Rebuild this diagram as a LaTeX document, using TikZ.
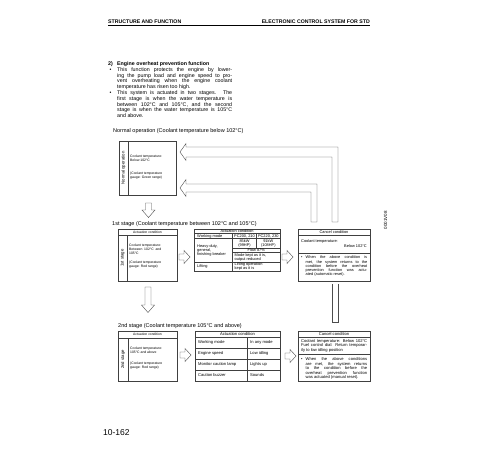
\documentclass[tikz,border=0pt]{standalone}
\usepackage{fontspec}
\setmainfont{Liberation Sans}
\usetikzlibrary{positioning}

\newcommand\hdfont{\fontsize{5.2}{6}\bfseries\selectfont}
\newcommand\parafont{\fontsize{5.3}{5.8}\selectfont}
\newcommand\titlefont{\fontsize{5.5}{6}\selectfont}
\newcommand\lboxfont{\fontsize{3.4}{4.2}\selectfont}
\newcommand\rotfont{\fontsize{4.3}{5}\selectfont}
\newcommand\tabfont{\fontsize{3.9}{4.2}\selectfont}
\newcommand\tabbfont{\fontsize{4.1}{4.5}\selectfont}

\tikzset{
  frame/.style={draw=black!75, line width=0.45pt, inner sep=0pt, anchor=north west},
  hollow/.style={draw=black!70, line width=0.4pt},
  txt/.style={inner sep=0pt, align=left},
  pics/rarrow/.style={code={\draw[hollow] (0,-3) -- (5,-3) -- (5,-6.5) -- (11,0) -- (5,6.5) -- (5,3) -- (0,3) -- cycle;}},
  pics/darrow/.style={code={\draw[hollow] (-3,0) -- (3,0) -- (3,#1) -- (6.5,#1) -- (0,#1+7.5) -- (-6.5,#1) -- (-3,#1) -- cycle;}},
}

\begin{document}
\begin{tikzpicture}[x=1pt, y=-1pt]
\fill[white] (0,0) rectangle (500,450);
\useasboundingbox (0,0) rectangle (500,450);

% page header
\node[txt, font=\hdfont, anchor=base west] (hdl) at (108,23) {STRUCTURE AND FUNCTION};
\node[txt, font=\hdfont, anchor=base east] (hdr) at (370,23) {ELECTRONIC CONTROL SYSTEM FOR STD};
\draw[line width=0.8pt] (108,25.5) -- (370,25.5);

% text
\node[txt, font=\parafont\bfseries, anchor=base west] (secno) at (108,65) {2)};
\node[txt, font=\parafont\bfseries, anchor=base west] (sec) at (117,65) {Engine overheat prevention function};
\node[txt, font=\parafont, anchor=base west] (dot1) at (109.5,71) {•};
\node[txt, font=\parafont, anchor=north west, text width=115pt, align=justify] (par1) at (117,67.2)
  {This function protects the engine by lower-\linebreak ing the pump load and engine speed to pro-\linebreak vent overheating when the engine coolant\linebreak temperature has risen too high.};
\node[txt, font=\parafont, anchor=base west] (dot2) at (109.5,94.3) {•};
\node[txt, font=\parafont, anchor=north west, text width=115pt, align=justify] (par2) at (117,90.5)
  {This system is actuated in two stages. The\linebreak first stage is when the water temperature is\linebreak between 102°C and 105°C, and the second\linebreak stage is when the water temperature is 105°C\linebreak and above.};

% normal operation
\node[txt, font=\titlefont, anchor=base west] (t0) at (113,132) {Normal operation (Coolant temperature below 102°C)};
\node[frame, minimum width=57pt, minimum height=54pt] (normal) at (119,141) {};
\draw[frame] (128,141) -- (128,195);
\node[txt, font=\rotfont, rotate=90] (normlbl) at (123.5,168) {Normal operation};
\node[txt, font=\lboxfont, anchor=north west] (norm1) at (130,155) {Coolant temperature:\\Below 102°C};
\node[txt, font=\lboxfont, anchor=north west] (norm2) at (130,172) {(Coolant temperature\\gauge: Green range)};

\pic at (148.5,203) {darrow=7};

% 1st stage
\node[txt, font=\titlefont, anchor=base west] (t1) at (112,225) {1st stage (Coolant temperature between 102°C and 105°C)};
\node[frame, minimum width=59pt, minimum height=52pt] (act1) at (118,229) {};
\draw[frame] (118,235) -- (177,235);
\draw[frame] (127,235) -- (127,281);
\node[txt, font=\lboxfont] (act1h) at (147.5,232.2) {Actuation condition};
\node[txt, font=\rotfont, rotate=90] (act1lbl) at (122.5,258) {1st stage};
\node[txt, font=\lboxfont, anchor=north west, text width=32pt, align=justify] (act1a) at (129,243.5)
  {Coolant temperature:\linebreak Between 102°C and\linebreak 105°C};
\node[txt, font=\lboxfont, anchor=north west] (act1b) at (129,261) {(Coolant temperature\\gauge: Red range)};

\pic at (179,257) {rarrow};

\node[frame, minimum width=86pt, minimum height=42pt] (tab1) at (194,229) {};
\draw[frame] (194,233.5) -- (280,233.5);
\draw[frame] (194,238.5) -- (280,238.5);
\draw[frame] (194,262) -- (280,262);
\draw[frame] (232.5,248) -- (280,248);
\draw[frame] (232.5,252.5) -- (280,252.5);
\draw[frame] (232.5,233.5) -- (232.5,271);
\draw[frame] (256.5,233.5) -- (256.5,248);
\node[txt, font=\tabfont] (tab1h) at (237,231.3) {Actuation condition};
\node[txt, font=\tabfont, anchor=west] (wm1) at (197,236.2) {Working mode};
\node[txt, font=\tabfont] (pca) at (244.5,236.2) {PC200, 210};
\node[txt, font=\tabfont] (pcb) at (268.3,236.2) {PC220, 230};
\node[txt, font=\tabfont, align=center] (kwa) at (244.5,243.3) {85kW\\(99HP)};
\node[txt, font=\tabfont, align=center] (kwb) at (268.3,243.3) {91kW\\(108HP)};
\node[txt, font=\tabfont, anchor=west] (heavy) at (197,250.3) {Heavy-duty,\\general,\\finishing breaker};
\node[txt, font=\tabfont] (flow) at (256.3,250.3) {Flow 87\%};
\node[txt, font=\tabfont, anchor=west] (kept) at (234.5,257.3) {Mode kept as it is,\\output reduced};
\node[txt, font=\tabfont, anchor=west] (lift) at (197,266.5) {Lifting};
\node[txt, font=\tabfont, anchor=west] (liftop) at (234.5,266.5) {Lifting operation\\kept as it is};

\pic at (282,257) {rarrow};

\node[frame, minimum width=72pt, minimum height=52pt] (cancel1) at (298,229) {};
\draw[frame] (298,235) -- (370,235);
\draw[frame] (298,253) -- (370,253);
\node[txt, font=\tabfont] (can1h) at (334,232.2) {Cancel condition};
\node[txt, font=\tabfont, anchor=west] (can1a) at (301,241.5) {Coolant temperature:};
\node[txt, font=\tabfont, anchor=east] (can1b) at (367,246.5) {Below 102°C};
\node[txt, font=\tabfont, anchor=base west] (dot3) at (301,258.8) {•};
\node[txt, font=\tabfont, anchor=north west, text width=61.5pt, align=justify] (can1c) at (305.5,255.8)
  {When the above condition is\linebreak met, the system returns to the\linebreak condition before the overheat\linebreak prevention function was actu-\linebreak ated (automatic reset).};

% return arrows
\draw[hollow] (180,152) -- (186,143.5) -- (186,147) -- (338,147) -- (338,222) -- (332,222)
  -- (332,157) -- (186,157) -- (186,160.5) -- cycle;
\draw[hollow] (180,188) -- (186,179.5) -- (186,184) -- (317,184) -- (317,222) -- (311,222)
  -- (311,192) -- (186,192) -- (186,196.5) -- cycle;
\draw[hollow] (332,284) -- (332,322) -- (338,322) -- (338,284);

\node[txt, font=\fontsize{4.5}{5}\selectfont, rotate=90] (figid) at (385.5,220) {0001V08};

\pic at (148,287) {darrow=18};

% 2nd stage
\node[txt, font=\titlefont, anchor=base west] (t2) at (118,327) {2nd stage (Coolant temperature 105°C and above)};
\node[frame, minimum width=59pt, minimum height=50pt] (act2) at (118,331) {};
\draw[frame] (118,338) -- (177,338);
\draw[frame] (128,338) -- (128,381);
\node[txt, font=\lboxfont] (act2h) at (147.5,334.5) {Actuation condition};
\node[txt, font=\rotfont, rotate=90] (act2lbl) at (123,359.5) {2nd stage};
\node[txt, font=\lboxfont, anchor=north west] (act2a) at (130,346.5) {Coolant temperature:\\105°C and above};
\node[txt, font=\lboxfont, anchor=north west] (act2b) at (130,361.5) {(Coolant temperature\\gauge: Red range)};

\pic at (180,355) {rarrow};

\node[frame, minimum width=85pt, minimum height=50pt] (tab2) at (195,331) {};
\foreach \yy in {337,348,359,370} \draw[frame] (195,\yy) -- (280,\yy);
\draw[frame] (247,337) -- (247,381);
\node[txt, font=\tabbfont] (tab2h) at (237.5,334) {Actuation condition};
\node[txt, font=\tabbfont, anchor=west] (wm2) at (198,342.5) {Working mode};
\node[txt, font=\tabbfont, anchor=west] (wm2v) at (250,342.5) {In any mode};
\node[txt, font=\tabbfont, anchor=west] (es2) at (198,353.5) {Engine speed};
\node[txt, font=\tabbfont, anchor=west] (es2v) at (250,353.5) {Low idling};
\node[txt, font=\tabbfont, anchor=west] (ml2) at (198,364.5) {Monitor caution lamp};
\node[txt, font=\tabbfont, anchor=west] (ml2v) at (250,364.5) {Lights up};
\node[txt, font=\tabbfont, anchor=west] (cb2) at (198,375.5) {Caution buzzer};
\node[txt, font=\tabbfont, anchor=west] (cb2v) at (250,375.5) {Sounds};

\pic at (285,356) {rarrow};

\node[frame, minimum width=72pt, minimum height=50pt] (cancel2) at (298,331) {};
\draw[frame] (298,337) -- (370,337);
\draw[frame] (298,354) -- (370,354);
\node[txt, font=\tabbfont] (can2h) at (334,334) {Cancel condition};
\node[txt, font=\tabbfont, anchor=north west, text width=66pt, align=justify] (can2a) at (301,339)
  {Coolant temperature: Below 102°C\linebreak Fuel control dial: Return temporar-\linebreak ily to low idling position};
\node[txt, font=\tabbfont, anchor=base west] (dot4) at (301,360.5) {•};
\node[txt, font=\tabbfont, anchor=north west, text width=61.5pt, align=justify] (can2b) at (305.5,357.5)
  {When the above conditions\linebreak are met, the system returns\linebreak to the condition before the\linebreak overheat prevention function\linebreak was actuated (manual reset).};

% page number
\node[txt, font=\fontsize{8.5}{9}\selectfont, anchor=base west] (pgno) at (103,435) {10-162};
\end{tikzpicture}
\end{document}
